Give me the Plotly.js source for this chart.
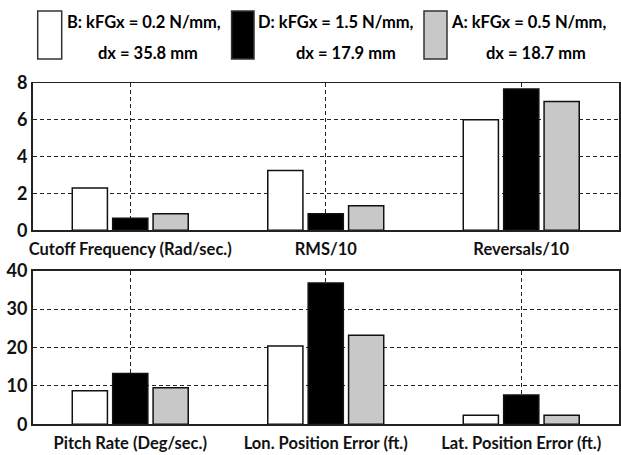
<!DOCTYPE html>
<html>
<head>
<meta charset="utf-8">
<script src="https://cdn.plot.ly/plotly-3.0.1.min.js"></script>
<style>html,body{margin:0;padding:0;background:#fff;}#chart{width:621px;height:455px;}</style>
</head>
<body>
<div id="chart"></div>
<script>
// ---- data ----
const topCategories = ['Cutoff Frequency (Rad/sec.)', 'RMS/10', 'Reversals/10'];
const bottomCategories = ['Pitch Rate (Deg/sec.)', 'Lon. Position Error (ft.)', 'Lat. Position Error (ft.)'];
const seriesNames = ['B', 'D', 'A'];
const legendLine1 = ['B: kFGx = 0.2 N/mm,', 'D: kFGx = 1.5 N/mm,', 'A: kFGx = 0.5 N/mm,'];
const legendLine2 = ['dx = 35.8 mm', 'dx = 17.9 mm', 'dx = 18.7 mm'];
const topB = [2.3, 3.25, 6.0];
const topD = [0.65, 0.9, 7.67];
const topA = [0.9, 1.33, 7.0];
const bottomB = [8.75, 20.4, 2.35];
const bottomD = [13.2, 36.8, 7.65];
const bottomA = [9.5, 23.2, 2.35];
const topTicks = [0, 2, 4, 6, 8];
const bottomTicks = [0, 10, 20, 30, 40];

// ---- styles ----
const W = 621, H = 455;
const fills = ['#ffffff', '#000000', '#c8c8c8'];
const FONT = 'Lato, Roboto, sans-serif';
const px = x => x / W;
const py = y => 1 - y / H;

const topVals = [topB, topD, topA];
const botVals = [bottomB, bottomD, bottomA];
const traces = [];
seriesNames.forEach((n, i) => {
  traces.push({type: 'bar', name: n, x: topCategories, y: topVals[i], xaxis: 'x', yaxis: 'y',
    marker: {color: fills[i], line: {color: '#111', width: 1.5}}, showlegend: false, hoverinfo: 'skip'});
  traces.push({type: 'bar', name: n, x: bottomCategories, y: botVals[i], xaxis: 'x2', yaxis: 'y2',
    marker: {color: fills[i], line: {color: '#111', width: 1.5}}, showlegend: false, hoverinfo: 'skip'});
});

const tickFont = {family: FONT, size: 18, color: '#111', weight: 'bold'};
const catFont = {family: FONT, size: 16.5, color: '#111', weight: 'bold'};
const axCommon = {
  showline: true, mirror: true, linecolor: '#222', linewidth: 1.5,
  showgrid: true, gridcolor: '#222', gridwidth: 1, griddash: '4px,3px',
  zeroline: false, ticks: '', automargin: false, fixedrange: true,
  tickfont: tickFont
};
const xdom = [px(32.5), px(619)];

const layout = {
  width: W, height: H,
  margin: {l: 0, r: 0, t: 0, b: 0, pad: 0},
  paper_bgcolor: '#fff', plot_bgcolor: '#fff',
  barmode: 'group', bargap: 0.38, bargroupgap: 0.13,
  showlegend: false,
  xaxis: Object.assign({}, axCommon, {domain: xdom, anchor: 'y', type: 'category',
    tickfont: catFont, tickangle: 0, ticklabelstandoff: 3, range: [-0.5, 2.5]}),
  yaxis: Object.assign({}, axCommon, {domain: [py(230.3), py(83)], anchor: 'x', range: [0, 8],
    tickvals: topTicks, ticktext: topTicks.map(String)}),
  xaxis2: Object.assign({}, axCommon, {domain: xdom, anchor: 'y2', type: 'category',
    tickfont: catFont, tickangle: 0, ticklabelstandoff: 3, range: [-0.5, 2.5]}),
  yaxis2: Object.assign({}, axCommon, {domain: [py(424.3), py(270.7)], anchor: 'x2', range: [0, 40],
    tickvals: bottomTicks, ticktext: bottomTicks.map(String)}),
  shapes: [],
  annotations: []
};

const boxX = [[37.7, 61.7], [231.6, 254], [424, 447]];
const line1X = [65, 255.5, 449];
const line2X = [95.7, 294, 484];
const legFont = {family: FONT, size: 16.5, color: '#000', weight: 'bold'};
seriesNames.forEach((n, i) => {
  layout.shapes.push({type: 'rect', xref: 'paper', yref: 'paper',
    x0: px(boxX[i][0]), x1: px(boxX[i][1]), y0: py(59), y1: py(11),
    fillcolor: fills[i], line: {color: '#333', width: 1.5}});
  layout.annotations.push({xref: 'paper', yref: 'paper', x: px(line1X[i]), y: py(21.5),
    xanchor: 'left', yanchor: 'middle', showarrow: false, text: legendLine1[i], font: legFont});
  layout.annotations.push({xref: 'paper', yref: 'paper', x: px(line2X[i]), y: py(52.5),
    xanchor: 'left', yanchor: 'middle', showarrow: false, text: legendLine2[i], font: legFont});
});

Plotly.newPlot('chart', traces, layout, {staticPlot: true, displayModeBar: false});
</script>
</body>
</html>
